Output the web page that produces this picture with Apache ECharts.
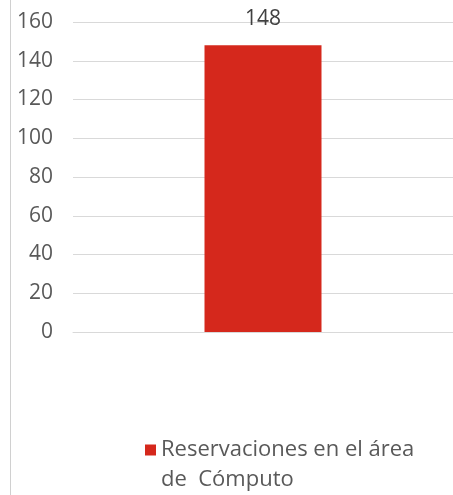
<!DOCTYPE html>
<html><head><meta charset="utf-8">
<script src="https://cdn.jsdelivr.net/npm/echarts@6/dist/echarts.min.js"></script>
<style>html,body{margin:0;padding:0;background:#fff}#c{width:453px;height:495px}</style>
</head><body><div id="c"></div>
<script>
const categories = ['Reservaciones en el área de Cómputo'];
const seriesName = 'Reservaciones en el área de Cómputo';
const values = [148];
const yTicks = [0, 20, 40, 60, 80, 100, 120, 140, 160];

const chart = echarts.init(document.getElementById('c'));
const font = '"Open Sans", "Noto Sans", sans-serif';
chart.setOption({
  animation: false,
  backgroundColor: '#fff',
  textStyle: {fontFamily: font},
  graphic: [{type: 'line', shape: {x1: 10.5, y1: 0, x2: 10.5, y2: 495}, style: {stroke: '#d0d0d0', lineWidth: 1}}],
  grid: {left: 73, width: 385, top: 22, bottom: 163},
  xAxis: {
    type: 'category', data: categories,
    axisLine: {show: true, lineStyle: {color: '#d9d9d9', width: 1}},
    axisTick: {show: false}, axisLabel: {show: false}
  },
  yAxis: {
    type: 'value', min: yTicks[0], max: yTicks[yTicks.length - 1], interval: 20,
    axisLine: {show: false}, axisTick: {show: false},
    splitLine: {lineStyle: {color: '#d9d9d9', width: 1}},
    axisLabel: {color: '#595959', fontSize: 21, margin: 20, fontFamily: font}
  },
  legend: {
    data: [seriesName], left: 140, top: 400,
    itemWidth: 11, itemHeight: 11, itemGap: 8,
    icon: 'rect',
    formatter: () => ' \nReservaciones en el área\nde  Cómputo',
    textStyle: {color: '#595959', fontSize: 22, lineHeight: 30, fontFamily: font}
  },
  series: [{
    name: seriesName, type: 'bar', data: values, barWidth: 117,
    itemStyle: {color: '#d5281c'},
    label: {show: true, position: 'top', distance: 16, color: '#404040', fontSize: 21, fontFamily: font}
  }]
});
</script></body></html>
